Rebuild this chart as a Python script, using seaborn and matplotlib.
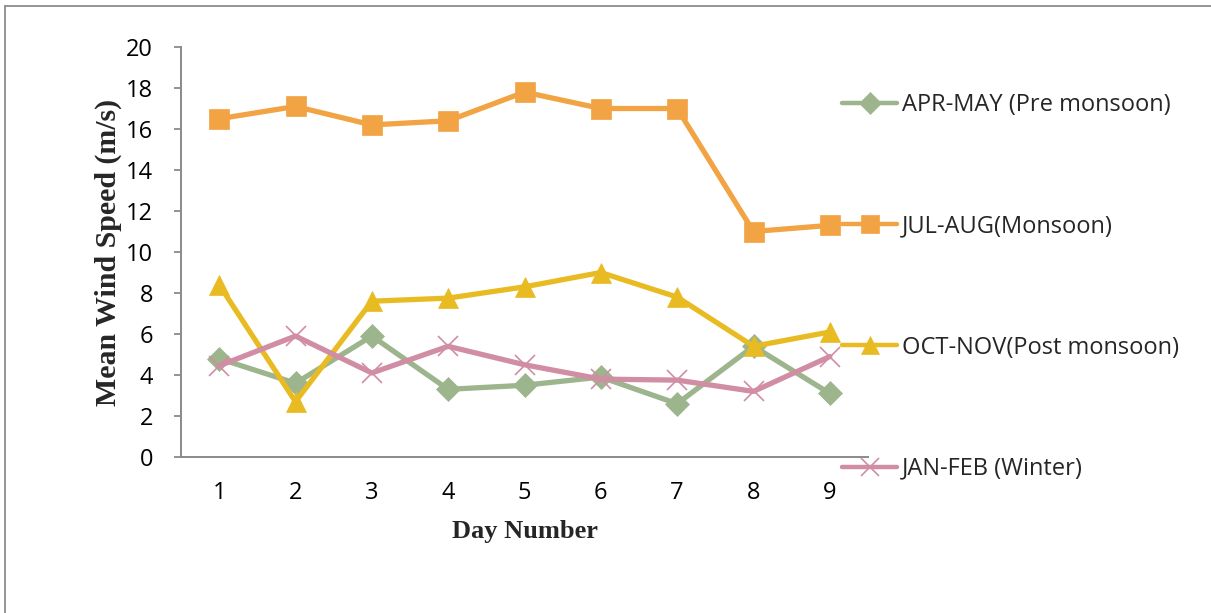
import matplotlib
matplotlib.use("Agg")
import matplotlib.pyplot as plt
from matplotlib.lines import Line2D
import seaborn as sns
import pandas as pd

days = [1, 2, 3, 4, 5, 6, 7, 8, 9]
series_names = [
    "APR-MAY (Pre monsoon)",
    "JUL-AUG(Monsoon)",
    "OCT-NOV(Post monsoon)",
    "JAN-FEB (Winter)",
]
apr_may = [4.8, 3.6, 5.9, 3.3, 3.5, 3.9, 2.6, 5.4, 3.1]
jul_aug = [16.5, 17.1, 16.2, 16.4, 17.8, 17.0, 17.0, 11.0, 11.3]
oct_nov = [8.4, 2.7, 7.6, 7.75, 8.3, 9.0, 7.8, 5.4, 6.1]
jan_feb = [4.45, 5.9, 4.1, 5.4, 4.5, 3.8, 3.75, 3.2, 4.9]
y_ticks = [0, 2, 4, 6, 8, 10, 12, 14, 16, 18, 20]

colors = ["#9DB58C", "#F2A445", "#E9BB23", "#D18DA4"]
markers = ["D", "s", "^", "x"]
marker_sizes = [12, 15, 15, 15]

frames = []
for name, vals in zip(series_names, [apr_may, jul_aug, oct_nov, jan_feb]):
    frames.append(pd.DataFrame({"Day": days, "Speed": vals, "Season": name}))
df = pd.concat(frames, ignore_index=True)

sns.set_theme(style="white")
plt.rcParams["font.family"] = ["Open Sans", "DejaVu Sans"]

fig = plt.figure(figsize=(12.11, 6.13), dpi=100)
ax = fig.add_axes([181 / 1211, 1 - 457 / 613, 687 / 1211, 410 / 613])

for name, col, mk, ms in zip(series_names, colors, markers, marker_sizes):
    sub = df[df["Season"] == name]
    sns.lineplot(
        data=sub, x="Day", y="Speed", ax=ax, color=col, linewidth=3.8,
        marker=mk, markersize=ms, markeredgecolor=col,
        markeredgewidth=1.2 if mk == "x" else 0.5, legend=False,
    )

ax.set_xlim(0.5, 9.5)
ax.set_ylim(0, 20)
ax.set_xticks(days)
ax.set_yticks(y_ticks)
ax.tick_params(axis="x", length=0, pad=17, labelsize=17, colors="black")
ax.tick_params(axis="y", length=5, width=1.3, color="#8a8a8a", direction="out",
               pad=15, labelsize=17, colors="black", left=True)
for s in ["top", "right"]:
    ax.spines[s].set_visible(False)
for s in ["left", "bottom"]:
    ax.spines[s].set_color("#8a8a8a")
    ax.spines[s].set_linewidth(1.4)
ax.grid(False)

ax.set_xlabel("Day Number", family="Liberation Serif", fontweight="bold",
              fontsize=19, labelpad=11)
ax.set_ylabel("Mean Wind Speed (m/s)", family="Liberation Serif",
              fontweight="bold", fontsize=21.5, labelpad=3)

handles = [
    Line2D([], [], color=c, linewidth=3.2, marker=m, markersize=ms * 0.9,
           markeredgecolor=c, markeredgewidth=1.2 if m == "x" else 0.5)
    for c, m, ms in zip(colors, markers, marker_sizes)
]
fig.legend(handles, series_names, loc="upper left",
           bbox_to_anchor=(842 / 1211, 1 - 93 / 613), frameon=False,
           fontsize=17, handlelength=2.35, handletextpad=0.2,
           labelspacing=4.12, borderaxespad=0, borderpad=0)

# outer frame lines along the top and left edges
fig.add_artist(Line2D([5 / 1211, 1], [1 - 6 / 613, 1 - 6 / 613],
                      transform=fig.transFigure, color="#8c8c8c", linewidth=1.3))
fig.add_artist(Line2D([5 / 1211, 5 / 1211], [0, 1 - 6 / 613],
                      transform=fig.transFigure, color="#8c8c8c", linewidth=1.3))

fig.savefig("out.png", dpi=100, facecolor="white")
